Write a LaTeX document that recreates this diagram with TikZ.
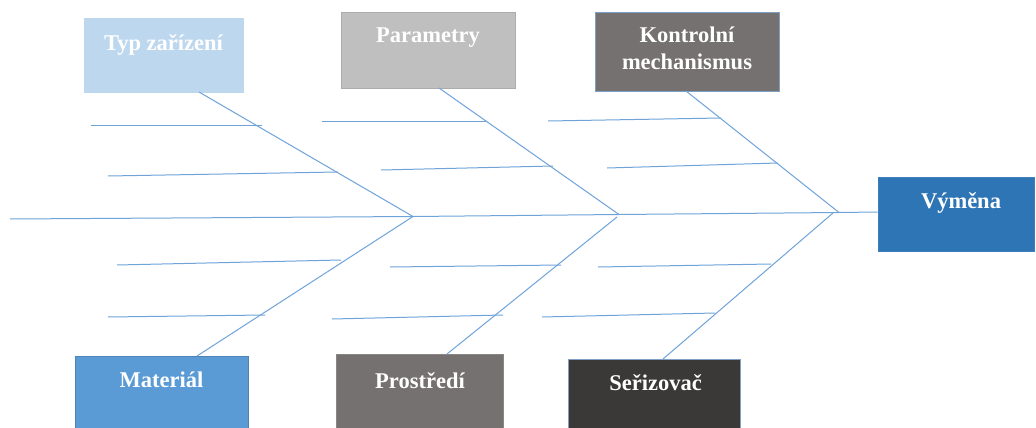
\documentclass[tikz,border=0pt]{standalone}
\usepackage{fontspec}
\setmainfont{Liberation Serif}
\definecolor{bone}{HTML}{6FA3DA}
\definecolor{cTyp}{HTML}{BDD7EE}
\definecolor{cPar}{HTML}{BFBFBF}
\definecolor{cKon}{HTML}{757171}
\definecolor{cVym}{HTML}{2E75B6}
\definecolor{cMat}{HTML}{5B9BD5}
\definecolor{cPro}{HTML}{767171}
\definecolor{cSer}{HTML}{3B3838}
\definecolor{edge}{HTML}{7F9FC4}
\begin{document}
\begin{tikzpicture}[x=1pt,y=-1pt,
  cause/.style={rectangle, inner sep=0pt, draw=edge, line width=0.8pt},
  lbl/.style={text=white, font=\fontsize{22.5}{28}\selectfont\bfseries, align=center, inner sep=0pt},
  bonel/.style={draw=bone, line width=1pt},
  rib/.style={draw=bone, line width=1pt}]
\clip (0,0) rectangle (1036,428);
\fill[white] (0,0) rectangle (1036,428);

% cause boxes
\node[cause, draw=cTyp, fill=cTyp, minimum width=159pt, minimum height=74pt] (typ) at (163.5,55) {};
\node[cause, draw=cPar!90!black, fill=cPar, minimum width=174pt, minimum height=76pt] (par) at (428,50) {};
\node[cause, fill=cKon, minimum width=184pt, minimum height=79pt] (kon) at (687,51.5) {};
\node[cause, draw=cVym!92!white, fill=cVym, minimum width=156pt, minimum height=74pt] (vym) at (956,214) {};
\node[cause, draw=cMat!85!black, fill=cMat, minimum width=173pt, minimum height=76pt] (mat) at (161.5,394) {};
\node[cause, draw=cPro!85!white, fill=cPro, minimum width=167pt, minimum height=76pt] (pro) at (419.5,392) {};
\node[cause, fill=cSer, minimum width=172pt, minimum height=76pt] (ser) at (654,397) {};

% captions
\node[lbl] (typ-t) at (163.5,45) {Typ zařízení};
\node[lbl] (par-t) at (428,38) {Parametry};
\node[lbl] (kon-t) at (687,48) {Kontrolní\\[-1pt]mechanismus};
\node[lbl] (vym-t) at (961,203) {Výměna};
\node[lbl] (mat-t) at (161.5,380) {Materiál};
\node[lbl] (pro-t) at (420,381) {Prostředí};
\node[lbl] (ser-t) at (655.5,383) {Seřizovač};

% spine
\coordinate (tail) at (10,219);
\coordinate (j1) at (413,216.5);
\coordinate (j2) at (619,214.5);
\coordinate (j3) at (839,212.5);
\coordinate (head) at (vym.west |- 0,212);
\draw[bonel] (tail) -- (j1) -- (j2) -- (j3) -- (head);

% main bones
\coordinate (typ-b) at (199,92);
\coordinate (par-b) at (439,88);
\coordinate (kon-b) at (686,91);
\coordinate (mat-b) at (197,356);
\coordinate (pro-b) at (447,354);
\coordinate (ser-b) at (663,359);
\draw[bonel] (typ-b) -- (j1);
\draw[bonel] (par-b) -- (j2);
\draw[bonel] (kon-b) -- (j3);
\draw[bonel] (mat-b) -- (j1);
\draw[bonel] (pro-b) -- (617,217);
\draw[bonel] (ser-b) -- (833,213);

% ribs
\draw[rib] (91,125) -- (262,125);
\draw[rib] (108,176) -- (338,172);
\draw[rib] (322,121) -- (487,121);
\draw[rib] (381,170) -- (553,166);
\draw[rib] (548,121) -- (721,118);
\draw[rib] (607,168) -- (778,163);
\draw[rib] (117,265) -- (341,260);
\draw[rib] (108,317) -- (265,315);
\draw[rib] (390,267) -- (561,265);
\draw[rib] (332,319) -- (503,315);
\draw[rib] (598,267) -- (771,264);
\draw[rib] (542,317) -- (715,313);
\end{tikzpicture}
\end{document}
